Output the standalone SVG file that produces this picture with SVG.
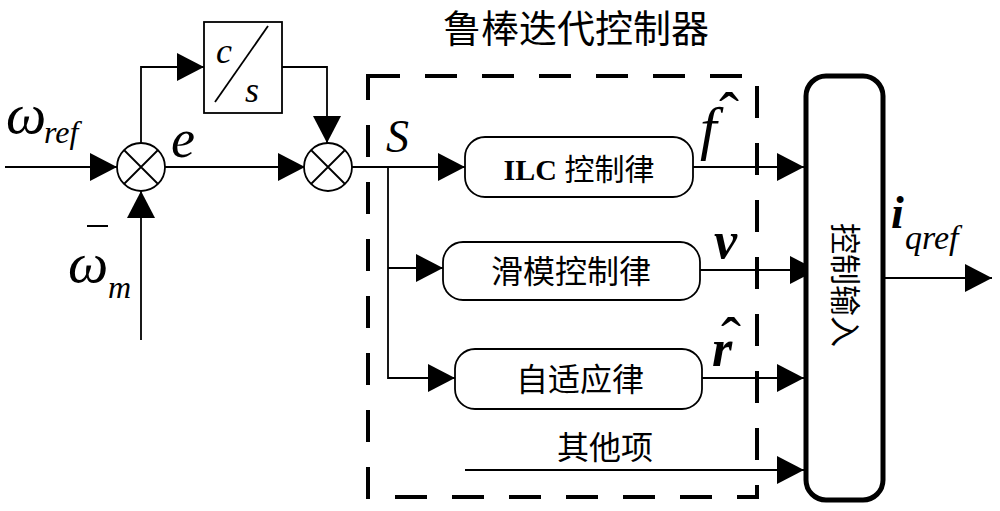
<svg xmlns="http://www.w3.org/2000/svg" width="1000" height="511" viewBox="0 0 1000 511">
<style>
.ln{fill:none;stroke:#000;stroke-width:1.8}
.bx{fill:#fff;stroke:#000;stroke-width:1.8}
.math{font-family:"Liberation Serif","Times New Roman",serif;font-style:italic;fill:#000}
.hat{font-family:"Liberation Serif","Times New Roman",serif;fill:#000;text-anchor:middle}
.cjk{font-family:"Liberation Serif","Noto Sans CJK SC",sans-serif;fill:#000}
</style>
<defs>
<marker id="ar" viewBox="0 0 27 28" markerWidth="27" markerHeight="28" refX="27" refY="14" orient="auto" markerUnits="userSpaceOnUse">
<path d="M0,0 L27,14 L0,28 Z" fill="#000"/>
</marker>
</defs>
<rect width="1000" height="511" fill="#fff"/>

<g id="title"><text class="cjk" x="576" y="42" font-size="38" text-anchor="middle">鲁棒迭代控制器</text></g>

<g id="robust-box"><rect x="368" y="76" width="389" height="421" fill="none" stroke="#000" stroke-width="4" stroke-dasharray="32 25"/></g>

<g id="connectors">
<path class="ln" d="M5,167 H117" marker-end="url(#ar)"/>
<path class="ln" d="M141,143 V67 H204" marker-end="url(#ar)"/>
<path class="ln" d="M282,67 H327 V143" marker-end="url(#ar)"/>
<path class="ln" d="M165,167 H305" marker-end="url(#ar)"/>
<path class="ln" d="M141,340 V191" marker-end="url(#ar)"/>
<path class="ln" d="M352,167 H465" marker-end="url(#ar)"/>
<path class="ln" d="M388,167 V378 H455" marker-end="url(#ar)"/>
<path class="ln" d="M388,268 H443" marker-end="url(#ar)"/>
<path class="ln" d="M693,167 H804" marker-end="url(#ar)"/>
<path class="ln" d="M700,270 H817" marker-end="url(#ar)"/>
<path class="ln" d="M702,378 H804" marker-end="url(#ar)"/>
<path class="ln" d="M465,470 H804" marker-end="url(#ar)"/>
<path class="ln" d="M884,278 H992" marker-end="url(#ar)"/>
</g>

<g id="sum1">
<circle class="bx" cx="141" cy="167" r="24"/>
<path class="ln" d="M124,150 L158,184 M158,150 L124,184"/>
</g>
<g id="sum2">
<circle class="bx" cx="328" cy="167" r="24"/>
<path class="ln" d="M311,150 L345,184 M345,150 L311,184"/>
</g>

<g id="integrator">
<rect class="bx" x="204" y="22" width="78" height="91"/>
<path class="ln" d="M268,26 L215,102"/>
<text class="math" x="216" y="63" font-size="36">c</text>
<text class="math" x="245" y="102" font-size="36">s</text>
</g>

<g id="ilc">
<rect class="bx" x="465" y="137" width="228" height="60" rx="20"/>
<text class="cjk" x="579" y="180" font-size="30" text-anchor="middle"><tspan font-weight="bold">ILC</tspan> 控制律</text>
</g>
<g id="smc">
<rect class="bx" x="443" y="242" width="257" height="58" rx="20"/>
<text class="cjk" x="571" y="283" font-size="32" text-anchor="middle">滑模控制律</text>
</g>
<g id="adaptive">
<rect class="bx" x="455" y="349" width="247" height="60" rx="20"/>
<text class="cjk" x="580" y="391" font-size="32" text-anchor="middle">自适应律</text>
</g>
<g id="other"><text class="cjk" x="605" y="459" font-size="32" text-anchor="middle">其他项</text></g>

<g id="control-input">
<rect x="806" y="76" width="77" height="424" rx="20" fill="#fff" stroke="#000" stroke-width="5"/>
<text class="cjk" transform="translate(845,285) rotate(90)" font-size="31" text-anchor="middle" y="11">控制输入</text>
</g>

<g id="labels">
<text class="math" x="6" y="133" font-size="57">ω</text>
<text class="math" x="44" y="143" font-size="32">ref</text>
<text class="math" x="171" y="157" font-size="54">e</text>
<line x1="87" y1="226" x2="108" y2="226" stroke="#000" stroke-width="2"/>
<text class="math" x="68" y="282" font-size="57">ω</text>
<text class="math" x="108" y="298" font-size="32">m</text>
<text class="math" x="386" y="152" font-size="46">S</text>
<text class="math" x="700" y="148" font-size="60">f</text>
<text class="hat" x="729" y="133" font-size="60">ˆ</text>
<text class="math" x="714" y="258" font-size="52" font-weight="bold">v</text>
<text class="math" x="712" y="366" font-size="52" font-weight="bold">r</text>
<text class="hat" x="731" y="358" font-size="60">ˆ</text>
<text class="math" x="891" y="228" font-size="46" font-weight="bold">i</text>
<text class="math" x="905" y="249" font-size="34">qref</text>
</g>
</svg>
